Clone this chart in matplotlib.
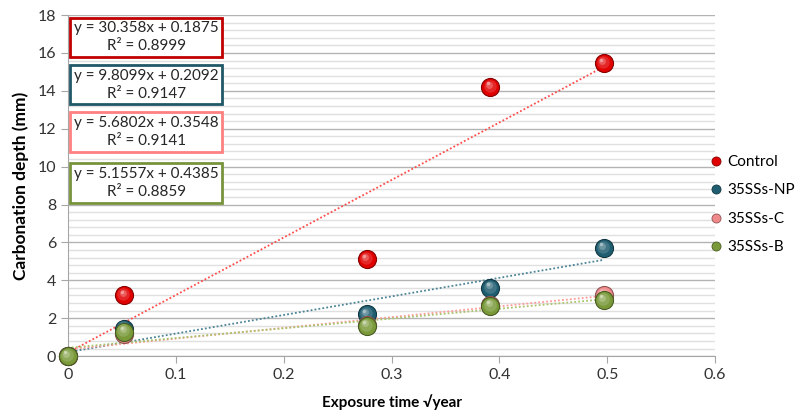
import numpy as np
import matplotlib.pyplot as plt
import matplotlib.transforms as mtransforms
from matplotlib.colors import to_rgb

# exposure time (sqrt year)
x_vals = [0, 0.0523, 0.2770, 0.3917, 0.4966]

series_names = ['Control', '35SSs-NP', '35SSs-C', '35SSs-B']
control = [0, 3.2, 5.1, 14.2, 15.45]
ssnp = [0, 1.45, 2.2, 3.6, 5.7]
ssc = [0, 1.15, 1.65, 2.7, 3.2]
ssb = [0, 1.3, 1.6, 2.65, 2.95]
slopes = [30.358, 9.8099, 5.6802, 5.1557]
intercepts = [0.1875, 0.2092, 0.3548, 0.4385]
r2_vals = [0.8999, 0.9147, 0.9141, 0.8859]

marker_cols = ['#e00000', '#1f5d70', '#f08a8a', '#7a9a3a']
line_cols = ['#ff4d4d', '#4a8496', '#ff9a9a', '#a9c46a']
box_cols = ['#c00000', '#215868', '#ff8080', '#77933c']

plt.rcParams['font.family'] = ['Lato', 'DejaVu Sans']

fig = plt.figure(figsize=(7.99, 4.18), dpi=100)
ax = fig.add_axes([0.085, 0.148, 0.810, 0.816])


def lighten(c, f):
    r, g, b = to_rgb(c)
    return (r + (1 - r) * f, g + (1 - g) * f, b + (1 - b) * f)


all_y = [control, ssnp, ssc, ssb]
for i, ys in enumerate(all_y):
    # fitted trend line
    xs = np.array([0, max(x_vals)])
    ax.plot(xs, slopes[i] * xs + intercepts[i], ls=(0, (1, 1.2)), lw=1.3,
            color=line_cols[i], zorder=3 + i * 0.1)
for i, ys in enumerate(all_y):
    # sphere-ish markers: dark base plus lighter offset layers
    dark = tuple(v * 0.6 for v in to_rgb(marker_cols[i]))
    ax.plot(x_vals, ys, 'o', ms=13, color=marker_cols[i], mec=dark, mew=0.8,
            zorder=5 + i, clip_on=False)
    for k, (sz, f) in enumerate([(9, 0.15), (5, 0.35), (2.5, 0.6)]):
        off = mtransforms.offset_copy(ax.transData, fig=fig,
                                      x=-(k + 1) * 0.6, y=(k + 1) * 0.9, units='points')
        ax.plot(x_vals, ys, 'o', ms=sz, color=lighten(marker_cols[i], f),
                mew=0, transform=off, zorder=5 + i + 0.01 * (k + 1), clip_on=False)
    ax.plot([], [], 'o', ms=6.5, color=marker_cols[i], mec=dark, mew=0.6,
            label=series_names[i])

ax.set_xlim(0, 0.6)
ax.set_ylim(0, 18)
ax.set_xticks(np.arange(0, 0.61, 0.1))
ax.set_xticklabels(['0', '0.1', '0.2', '0.3', '0.4', '0.5', '0.6'])
ax.set_yticks(np.arange(0, 19, 2))
ax.set_yticks(np.arange(0, 18.01, 0.4), minor=True)
ax.grid(axis='y', which='major', color='#b3b3b3', lw=1.0)
ax.grid(axis='y', which='minor', color='#e0e0e0', lw=1.0)
ax.set_axisbelow(True)
for s in ['top', 'right']:
    ax.spines[s].set_visible(False)
for s in ['left', 'bottom']:
    ax.spines[s].set_color('#a6a6a6')
ax.tick_params(axis='x', which='major', length=5, color='#a6a6a6',
               labelsize=11.5, labelcolor='#333333', direction='out')
ax.tick_params(axis='y', which='major', length=5, color='#a6a6a6',
               labelsize=11.5, labelcolor='#333333')
ax.tick_params(axis='y', which='minor', length=0)

ax.set_xlabel('Exposure time \u221ayear', fontsize=11, fontweight='bold', labelpad=9)
ax.set_ylabel('Carbonation depth (mm)', fontsize=12.5, fontweight='bold', labelpad=6)

box_y = [16.82, 14.33, 11.83, 9.13]
for i in range(4):
    txt = 'y = {}x + {}\nR\u00b2 = {}'.format(slopes[i], intercepts[i], r2_vals[i])
    ax.text(0.0726, box_y[i], txt, ha='center', va='center', fontsize=11,
            color='#262626', multialignment='center', linespacing=1.35, zorder=10,
            bbox=dict(boxstyle='square,pad=0.25', fc='white', ec=box_cols[i], lw=2))

ax.legend(loc='upper left', bbox_to_anchor=(0.99, 0.59), frameon=False,
          fontsize=11, handletextpad=0.2, labelspacing=0.95, handlelength=1.0,
          borderaxespad=0, borderpad=0)

fig.savefig('out.png', dpi=100)
